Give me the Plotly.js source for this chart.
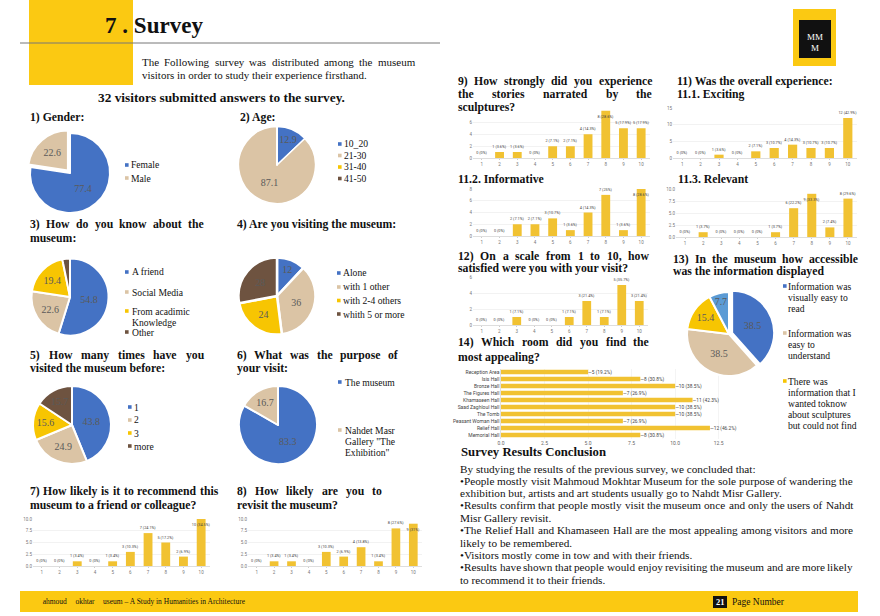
<!DOCTYPE html>
<html><head><meta charset="utf-8">
<script src="https://cdn.plot.ly/plotly-3.0.1.min.js"></script>
<style>html,body{margin:0;padding:0;background:#fff}#chart{width:880px;height:616px}</style>
</head><body><div id="chart"></div>
<script>
// ---------------- DATA ----------------
const genderLabels = ['Female', 'Male'];
const genderValues = [77.4, 22.6];
const ageLabels = ['10_20', '21-30', '31-40', '41-50'];
const ageValues = [12.9, 87.1, 0, 0];
const knowLabels = ['A friend', 'Social Media', 'From acadimic<br>Knowledge', 'Other'];
const knowValues = [54.8, 22.6, 19.4, 3.2];
const withLabels = ['Alone', 'with 1 other', 'with 2-4 others', 'whith 5 or more'];
const withValues = [12, 36, 24, 28];
const timesLabels = ['1', '2', '3', 'more'];
const timesValues = [43.8, 24.9, 15.6, 15.7];
const purposeLabels = ['The museum', 'Nahdet Masr<br>Gallery "The<br>Exhibition"'];
const purposeValues = [83.3, 16.7];
const accessLabels = ['Information was<br>visually easy to<br>read', 'Information was<br>easy to<br>understand', 'There was<br>information that I<br>wanted toknow<br>about sculptures<br>but could not find', 'Other'];
const accessValues = [38.5, 38.5, 15.4, 7.7];

const scaleCats = ['1', '2', '3', '4', '5', '6', '7', '8', '9', '10'];
const recommendCounts = [0, 0, 1, 0, 1, 3, 7, 5, 2, 10];
const recommendPct = ['0%', '0%', '3.4%', '0%', '3.4%', '10.3%', '24.1%', '17.2%', '6.9%', '34.5%'];
const revisitCounts = [0, 1, 1, 0, 3, 2, 4, 1, 8, 9];
const revisitPct = ['0%', '3.4%', '3.4%', '0%', '10.3%', '6.9%', '13.8%', '3.4%', '27.6%', '31%'];
const storiesCounts = [0, 1, 1, 0, 2, 2, 4, 8, 5, 5];
const storiesPct = ['0%', '3.6%', '3.6%', '0%', '7.1%', '7.1%', '14.3%', '28.6%', '17.9%', '17.9%'];
const excitingCounts = [0, 0, 1, 0, 2, 3, 4, 3, 3, 12];
const excitingPct = ['0%', '0%', '3.6%', '0%', '7.1%', '10.7%', '14.3%', '10.7%', '10.7%', '42.9%'];
const informativeCounts = [0, 0, 2, 2, 3, 1, 4, 7, 1, 8];
const informativePct = ['0%', '0%', '7.1%', '7.1%', '10.7%', '3.6%', '14.3%', '25%', '3.6%', '28.6%'];
const relevantCounts = [0, 1, 0, 0, 0, 1, 6, 9, 2, 8];
const relevantPct = ['0%', '3.7%', '0%', '0%', '0%', '3.7%', '22.2%', '33.3%', '7.4%', '29.6%'];
const satisfiedCounts = [0, 0, 1, 0, 0, 1, 3, 1, 5, 3];
const satisfiedPct = ['0%', '0%', '7.1%', '0%', '0%', '7.1%', '21.4%', '7.1%', '35.7%', '21.4%'];
const rooms = ['Reception Area', 'Isis Hall', 'Bronze Hall', 'The Figures Hall', 'Khamaseen Hall', 'Saad Zaghloul Hall', 'The Tomb', 'Peasant Woman Hall', 'Relief Hall', 'Memorial Hall'];
const roomCounts = [5, 8, 10, 7, 11, 10, 10, 7, 12, 8];
const roomPct = ['19.2%', '30.8%', '38.5%', '26.9%', '42.3%', '38.5%', '38.5%', '26.9%', '46.2%', '30.8%'];

const ticks10 = [0, 2.5, 5, 7.5, 10];
const ticks10Text = ['0.0', '2.5', '5.0', '7.5', '10.0'];
const ticks8 = [0, 2, 4, 6, 8];
const ticks8Text = ['0', '2', '4', '6', '8'];
const ticks6 = [0, 2, 4, 6];
const ticks6Text = ['0', '2', '4', '6'];
const ticks15 = [0, 5, 10, 15];
const ticks15Text = ['0', '5', '10', '15'];
const roomTicks = [0, 2.5, 5, 7.5, 10, 12.5];
const roomTickText = ['0.0', '2.5', '5.0', '7.5', '10.0', '12.5'];

const pageTitle = '7 . Survey';
const introLines = ['The Following survey was distributed among the museum', 'visitors in order to study their experience firsthand.'];
const visitorsLine = '32 visitors submitted answers to the survey.';
const conclusionTitle = 'Survey Results Conclusion';
const conclusionLines = [
  'By studying the results of the previous survey, we concluded that:',
  '\u2022People mostly visit Mahmoud Mokhtar Museum for the sole purpose of wandering the',
  'exhibition but, artists and art students usually go to Nahdt Misr Gallery.',
  '\u2022Results confirm that people mostly visit the museum once and only the users of Nahdt',
  'Misr Gallery revisit.',
  '\u2022The Relief Hall and Khamaseen Hall are the most appealing among visitors and more',
  'likely to be remembered.',
  '\u2022Visitors mostly come in tow and with their friends.',
  '\u2022Results have shown that people would enjoy revisiting the museum and are more likely',
  'to recommend it to their friends.'
];
const footerText = 'Mahmoud Mokhtar Museum \u2013 A Study in Humanities in Architecture';
const pageNumber = '21';

// ---------------- STYLE ----------------
const W = 880, H = 616;
const SERIF = '"Liberation Serif", "Times New Roman", serif';
const SANS = 'Roboto, "Liberation Sans", Arial, sans-serif';
const BLUE = '#4472C4', TAN = '#DBC4A5', YEL = '#F7C502', BROWN = '#6E5340', LBLUE = '#5B9BD5';
const BAR = '#F1C232', HDR = '#FBC912';

const ctx = document.createElement('canvas').getContext('2d');
function measure(t, size, bold) {
  ctx.font = (bold ? 'bold ' : '') + '100px "Liberation Serif"';
  return ctx.measureText(t).width * size / 100;
}
function clamp(v, a, b) { return isFinite(v) ? Math.max(a, Math.min(b, v)) : (a + b) / 2; }

const ann = [], shapes = [];
function A(text, x, y, size, o) {
  o = o || {};
  ann.push({text: text, x: x / W, y: 1 - y / H, xref: 'paper', yref: 'paper',
    xanchor: o.xa || 'left', yanchor: 'middle', showarrow: false, borderpad: 0, borderwidth: 0,
    font: {family: o.family || SERIF, size: size, color: o.color || '#111'}});
}
function line(t, x, y, size, bold, color) { A(bold ? '<b>' + t + '</b>' : t, x, y, size, {color: color}); }
function just(t, x0, x1, y, size, bold) {
  const words = t.split(' ');
  const ws = words.map(w => measure(w, size, bold));
  const sum = ws.reduce((a, b) => a + b, 0);
  const gap = words.length > 1 ? (x1 - x0 - sum) / (words.length - 1) : 0;
  let x = x0;
  words.forEach((w, i) => { line(w, x, y, size, bold); x += ws[i] + gap; });
}
function R(x0, y0, x1, y1, fill, layer) {
  shapes.push({type: 'rect', xref: 'paper', yref: 'paper', x0: x0 / W, x1: x1 / W, y0: 1 - y1 / H, y1: 1 - y0 / H,
    fillcolor: fill, line: {width: 0}, layer: layer || 'below'});
}

// header
R(29, 0, 133, 85, HDR);
shapes.push({type: 'line', xref: 'paper', yref: 'paper', x0: 20 / W, x1: 440 / W, y0: 1 - 43 / H, y1: 1 - 43 / H, line: {color: '#777', width: 1}});
R(793, 9, 836, 66, HDR);
R(799, 20, 831, 58, '#111', 'above');
A('MM', 815, 37, 9, {xa: 'center', color: '#fff'});
A('M', 815, 48, 9, {xa: 'center', color: '#fff'});

const bigSize = clamp(98 / measure(pageTitle, 1, true), 18, 28);
line(pageTitle, 105, 25, bigSize, true);
const introSize = clamp(225 / measure(introLines[1], 1, false), 9, 12.5);
just(introLines[0], 142, 415, 62, introSize, false);
line(introLines[1], 142, 75, introSize, false);
const visSize = clamp(247 / measure(visitorsLine, 1, true), 10, 14);
line(visitorsLine, 98, 97, visSize, true);

// question titles
const TS = clamp(160 / measure('4) Are you visiting the museum:', 1, true), 10, 13);
const titleSpecs = [
  ['1) Gender:', 30, null, 117], ['2) Age:', 240, null, 117],
  ['3) How do you know about the', 30, 204, 224], ['museum:', 30, null, 238],
  ['4) Are you visiting the museum:', 237, null, 224],
  ['5) How many times have you', 30, 204, 355], ['visited the museum before:', 30, null, 368],
  ['6) What was the purpose of', 237, 398, 355], ['your visit:', 237, null, 368],
  ['7) How likely is it to recommend this', 30, 218, 491], ['museum to a friend or colleague?', 30, null, 505],
  ['8) How likely are you to', 237, 382, 491], ['revisit the museum?', 237, null, 505],
  ['9) How strongly did you experience', 458, 652, 81], ['the stories narrated by the', 458, 652, 94], ['sculptures?', 458, null, 107],
  ['11) Was the overall experience:', 677, null, 81], ['11.1. Exciting', 677, null, 94],
  ['11.2. Informative', 458, null, 179], ['11.3. Relevant', 678, null, 179],
  ['12) On a scale from 1 to 10, how', 458, 649, 256], ['satisfied were you with your visit?', 458, null, 268],
  ['13) In the museum how accessible', 673, 858, 259], ['was the information displayed', 673, null, 272],
  ['14) Which room did you find the', 458, 649, 343], ['most appealing?', 458, null, 357]
];
titleSpecs.forEach(s => { if (s[2]) just(s[0], s[1], s[2], s[3], TS, true); else line(s[0], s[1], s[3], TS, true); });

// conclusion
line(conclusionTitle, 461, 452, TS + 1, true);
const bodySize = clamp(296 / measure(conclusionLines[0], 1, false), 9, 12.5);
const conclY = [469, 481, 493, 505, 518, 530, 543, 555, 567, 580];
const conclJust = [false, true, false, true, false, true, false, false, true, false];
conclusionLines.forEach((t, i) => { if (conclJust[i]) just(t, 460, 853, conclY[i], bodySize, false); else line(t, 460, conclY[i], bodySize, false); });

// footer
R(20, 591, 858, 612, HDR);
R(713, 596, 727, 608, '#111', 'above');
A('<b>' + pageNumber + '</b>', 720, 602, 8.5, {xa: 'center', color: '#fff'});
A('Page Number', 732, 602, 9.5);
A(footerText.replace(/M/g, '<span style="color:' + HDR + '">M</span>'), 36, 601, 7.5);

// ---------------- PIES ----------------
const pies = [
  {labels: genderLabels, values: genderValues, colors: [BLUE, TAN], cx: 70, cy: 173, r: 40, pull: [0, 0.08], lw: 2},
  {labels: ageLabels, values: ageValues, colors: [BLUE, TAN, YEL, BROWN], cx: 277, cy: 165, r: 38.5, pull: [0, 0, 0, 0], lw: 1.5},
  {labels: knowLabels, values: knowValues, colors: [BLUE, TAN, YEL, BROWN], cx: 70, cy: 297, r: 38.5, pull: [0, 0, 0, 0], lw: 2},
  {labels: withLabels, values: withValues, colors: [BLUE, TAN, YEL, BROWN], cx: 277, cy: 296, r: 38.5, pull: [0, 0, 0, 0], lw: 2.5},
  {labels: timesLabels, values: timesValues, colors: [BLUE, TAN, YEL, BROWN], cx: 72, cy: 425, r: 39, pull: [0, 0, 0, 0], lw: 2},
  {labels: purposeLabels, values: purposeValues, colors: [BLUE, TAN], cx: 278, cy: 425, r: 39, pull: [0, 0], lw: 2},
  {labels: accessLabels, values: accessValues, colors: [BLUE, TAN, YEL, LBLUE], cx: 729, cy: 334, r: 42, pull: [0.08, 0, 0, 0], lw: 2}
];
const data = [];
pies.forEach(p => {
  const mp = Math.max.apply(null, p.pull);
  const hw = p.r * (1 + mp);
  data.push({type: 'pie', labels: p.labels, values: p.values, sort: false, direction: 'clockwise', rotation: 0,
    pull: p.pull, domain: {x: [(p.cx - hw) / W, (p.cx + hw) / W], y: [1 - (p.cy + hw) / H, 1 - (p.cy - hw) / H]},
    marker: {colors: p.colors, line: {color: '#fff', width: p.lw}},
    text: p.values.map(v => v > 0 ? String(v) : ''), textinfo: 'text', textposition: 'inside',
    insidetextorientation: 'horizontal', textfont: {family: SERIF, size: 10, color: '#5a5a5a'},
    hoverinfo: 'none', showlegend: false});
});

// legends (drawn as text beside each pie)
const legends = [
  {pie: 0, mx: 125, tx: 131, ys: [165, 178]},
  {pie: 1, mx: 338, tx: 344, ys: [144, 155.5, 167, 178.5]},
  {pie: 2, mx: 125, tx: 132, ys: [272, 292, 311, 332]},
  {pie: 3, mx: 337, tx: 343, ys: [273, 287, 300.5, 314]},
  {pie: 4, mx: 128, tx: 134, ys: [407, 420, 433, 446]},
  {pie: 5, mx: 338, tx: 345, ys: [382, 430]},
  {pie: 6, mx: 783, tx: 788, ys: [286, 333, 381]}
];
const LS = 9.6, LH = 11;
legends.forEach(L => {
  const p = pies[L.pie];
  L.ys.forEach((y, i) => {
    shapes.push({type: 'rect', xref: 'paper', yref: 'paper', x0: L.mx / W, x1: (L.mx + 3.6) / W,
      y0: 1 - (y + 1.8) / H, y1: 1 - (y - 1.8) / H, fillcolor: p.colors[i], line: {width: 0}, layer: 'above'});
    p.labels[i].split('<br>').forEach((t, k) => A(t, L.tx, y + k * LH, LS));
  });
});

// ---------------- BARS ----------------
const bars = [
  {vals: recommendCounts, pct: recommendPct, x: [33, 210], y: [519, 566], range: [0, 10], tv: ticks10, tt: ticks10Text},
  {vals: revisitCounts, pct: revisitPct, x: [248, 422], y: [519, 566], range: [0, 10], tv: ticks10, tt: ticks10Text},
  {vals: storiesCounts, pct: storiesPct, x: [473, 650], y: [110.5, 158], range: [0, 8], tv: ticks6, tt: ticks6Text},
  {vals: excitingCounts, pct: excitingPct, x: [673, 857], y: [108, 158], range: [0, 15], tv: ticks15, tt: ticks15Text},
  {vals: informativeCounts, pct: informativePct, x: [473, 650], y: [189, 236], range: [0, 8], tv: ticks8, tt: ticks8Text},
  {vals: relevantCounts, pct: relevantPct, x: [676, 857], y: [189, 237], range: [0, 10], tv: ticks10, tt: ticks10Text},
  {vals: satisfiedCounts, pct: satisfiedPct, x: [473, 648], y: [277, 325], range: [0, 6], tv: ticks6, tt: ticks6Text}
];
const layout = {width: W, height: H, margin: {l: 0, r: 0, t: 0, b: 0}, paper_bgcolor: '#fff', plot_bgcolor: 'rgba(0,0,0,0)',
  showlegend: false, hovermode: false, annotations: ann, shapes: shapes};
const tickF = {family: SANS, size: 4.5, color: '#777'};
bars.forEach((b, i) => {
  const n = i + 1, sx = n === 1 ? '' : String(n);
  const mx = Math.max.apply(null, b.vals);
  data.push({type: 'bar', x: scaleCats, y: b.vals, xaxis: 'x' + sx, yaxis: 'y' + sx, width: 0.5,
    marker: {color: BAR}, text: b.vals.map((v, k) => v + ' (' + b.pct[k] + ')'),
    textposition: b.vals.map(v => (v === mx && v >= b.range[1] * 0.9) ? 'inside' : 'outside'),
    insidetextanchor: 'end', textangle: 0, constraintext: 'none', cliponaxis: false,
    textfont: {family: SANS, size: 3.8, color: '#444'}, hoverinfo: 'none'});
  layout['xaxis' + sx] = {domain: [b.x[0] / W, b.x[1] / W], anchor: 'y' + sx, type: 'category', tickfont: tickF,
    showgrid: false, showline: true, linecolor: '#c8c8c8', linewidth: 0.6, ticks: 'outside', ticklen: 1.5, tickcolor: '#ccc', fixedrange: true};
  layout['yaxis' + sx] = {domain: [1 - b.y[1] / H, 1 - b.y[0] / H], anchor: 'x' + sx, range: b.range, tickvals: b.tv, ticktext: b.tt,
    tickfont: tickF, gridcolor: '#e9e9e9', gridwidth: 0.6, zeroline: false, showline: false, fixedrange: true};
});
// horizontal room chart
data.push({type: 'bar', orientation: 'h', y: rooms, x: roomCounts, xaxis: 'x8', yaxis: 'y8', width: 0.65,
  marker: {color: BAR}, text: roomCounts.map((v, k) => '\u2014' + v + ' (' + roomPct[k] + ')'),
  textposition: 'outside', cliponaxis: false, constraintext: 'none',
  textfont: {family: SANS, size: 4.8, color: '#444'}, hoverinfo: 'none'});
layout.xaxis8 = {domain: [501 / W, 723 / W], anchor: 'y8', range: [0, 12.75], tickvals: roomTicks, ticktext: roomTickText,
  tickfont: {family: SANS, size: 5, color: '#666'}, gridcolor: '#ececec', gridwidth: 0.6, zeroline: false, showline: false, fixedrange: true};
layout.yaxis8 = {domain: [1 - 438.5 / H, 1 - 368.5 / H], anchor: 'x8', type: 'category', autorange: 'reversed',
  tickfont: {family: SANS, size: 5, color: '#444'}, showgrid: false, showline: true, linecolor: '#ccc', linewidth: 0.6, fixedrange: true};

Plotly.newPlot('chart', data, layout, {staticPlot: true, displayModeBar: false});
</script>
</body></html>
